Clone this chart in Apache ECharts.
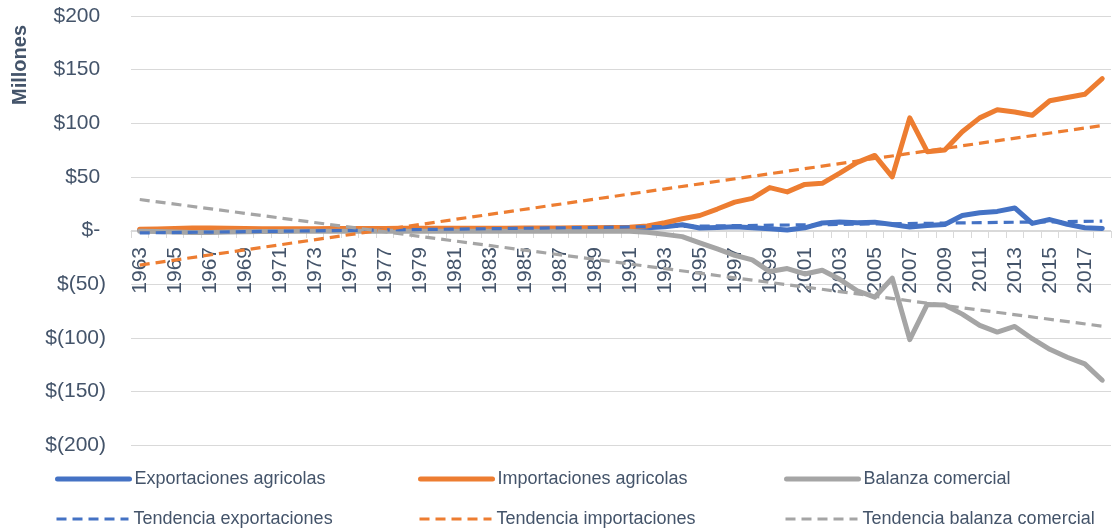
<!DOCTYPE html>
<html>
<head>
<meta charset="utf-8">
<script src="https://cdn.jsdelivr.net/npm/echarts@6/dist/echarts.min.js"></script>
<style>
  html, body { margin: 0; padding: 0; background: #fff; }
  #chart { width: 1113px; height: 531px; }
</style>
</head>
<body>
<div id="chart"></div>
<script>
// years 1963..2018
var years = [];
for (var y = 1963; y <= 2018; y++) years.push(String(y));

// millones de dolares
var exportaciones = [
  0.4, 0.4, 0.5, 0.5, 0.5, 0.6, 0.6, 0.7, 0.7, 0.8,
  0.9, 1.0, 1.0, 1.1, 1.2, 1.2, 1.3, 1.4, 1.4, 1.5,
  1.5, 1.6, 1.6, 1.7, 1.8, 1.9, 2.0, 2.1, 2.3, 2.6,
  3.6, 5.3, 2.4, 2.8, 3.4, 2.6, 1.7, 0.5, 2.5, 7.0,
  8.0, 7.3, 7.8, 5.6, 3.2, 4.6, 5.6, 14.0, 16.5, 17.8,
  21.0, 6.6, 10.2, 5.8, 2.6, 1.9
];
var importaciones = [
  1.2, 1.4, 1.8, 2.3, 2.4, 2.0, 1.8, 1.7, 1.6, 1.6,
  1.7, 1.8, 1.8, 1.9, 1.9, 2.0, 2.0, 2.1, 2.1, 2.1,
  2.2, 2.2, 2.3, 2.3, 2.4, 2.5, 2.6, 2.7, 3.0, 4.3,
  7.2, 11.0, 14.0, 20.0, 26.5, 30.0, 40.0, 36.0, 43.0, 44.0,
  53.5, 63.5, 70.0, 50.0, 105.0, 73.5, 75.0, 92.0, 105.0, 112.5,
  110.5, 107.5, 121.0, 124.0, 127.0, 141.5
];
var balanza = [
  -0.8, -1.0, -1.3, -1.8, -1.9, -1.4, -1.2, -1.0, -0.9, -0.8,
  -0.8, -0.8, -0.8, -0.8, -0.7, -0.8, -0.7, -0.7, -0.7, -0.6,
  -0.7, -0.6, -0.7, -0.6, -0.6, -0.6, -0.6, -0.6, -0.7, -1.7,
  -3.6, -5.7, -11.6, -17.2, -23.1, -27.4, -38.3, -35.5, -40.5, -37.0,
  -45.5, -56.2, -62.2, -44.4, -101.8, -68.9, -69.4, -78.0, -88.5, -94.7,
  -89.5, -100.9, -110.8, -118.2, -124.4, -139.6
];

// linear trend lines: value at first and last year
var tendExportaciones = [-2.3, 8.7];
var tendImportaciones = [-32.3, 97.9];
var tendBalanza = [28.9, -89.2];

var names = [
  'Exportaciones agricolas', 'Importaciones agricolas', 'Balanza comercial',
  'Tendencia exportaciones', 'Tendencia importaciones', 'Tendencia balanza comercial'
];
var colors = ['#4472C4', '#ED7D31', '#A5A5A5'];
var textColor = '#44546A';
var font = 'Liberation Sans, Arial, sans-serif';

function endpoints(pair) {
  var d = years.map(function () { return null; });
  d[0] = pair[0];
  d[d.length - 1] = pair[1];
  return d;
}

function solid(name, data, color) {
  return {
    name: name, type: 'line', data: data, symbol: 'none',
    lineStyle: { color: color, width: 5, cap: 'round', join: 'round' },
    itemStyle: { color: color }
  };
}
function dashed(name, pair, color) {
  return {
    name: name, type: 'line', data: endpoints(pair), symbol: 'none',
    connectNulls: true,
    lineStyle: { color: color, width: 3.2, type: [10, 6] },
    itemStyle: { color: color }
  };
}

function yLabel(v) {
  if (v === 0) return '$- ';
  if (v > 0) return '$' + v + ' ';
  return '$(' + (-v) + ')';
}

var legendPos = [
  [50, 465], [413, 465], [779, 465],
  [50, 505], [413, 505], [779, 505]
];
var legends = names.map(function (n, i) {
  return {
    data: [n], left: legendPos[i][0], top: legendPos[i][1],
    itemWidth: 72, itemHeight: 6, itemGap: 0,
    itemStyle: { opacity: 0 },
    lineStyle: { width: i < 3 ? 5 : 3, cap: i < 3 ? 'round' : 'butt' },
    textStyle: { color: textColor, fontSize: 18, fontFamily: font },
    selectedMode: false
  };
});

var chart = echarts.init(document.getElementById('chart'));
chart.setOption({
  animation: false,
  textStyle: { fontFamily: font },
  grid: { left: 131, right: 2, top: 16, bottom: 86 },
  legend: legends,
  graphic: [{
    type: 'text', x: 20, y: 65, rotation: Math.PI / 2,
    style: {
      text: 'Millones', fill: textColor, fontSize: 20, fontWeight: 'bold',
      fontFamily: font, align: 'center', verticalAlign: 'middle'
    }
  }],
  xAxis: {
    type: 'category', data: years, boundaryGap: true,
    // sit the axis on the $- line (grid bottom is 214px below it)
    offset: -214,
    axisLine: { onZero: false, lineStyle: { color: '#D9D9D9', width: 1 } },
    axisTick: { show: true, interval: 0, length: 7, lineStyle: { color: '#D9D9D9' } },
    axisLabel: {
      interval: 1, rotate: 90, margin: 16, color: textColor,
      fontSize: 21, fontFamily: font
    },
    splitLine: { show: false }
  },
  yAxis: {
    type: 'value', min: -200, max: 200, interval: 50,
    axisLine: { show: false }, axisTick: { show: false },
    axisLabel: { formatter: yLabel, margin: 25, color: textColor, fontSize: 21, fontFamily: font },
    splitLine: { lineStyle: { color: '#D9D9D9', width: 1 } }
  },
  series: [
    solid(names[0], exportaciones, colors[0]),
    solid(names[1], importaciones, colors[1]),
    solid(names[2], balanza, colors[2]),
    dashed(names[3], tendExportaciones, colors[0]),
    dashed(names[4], tendImportaciones, colors[1]),
    dashed(names[5], tendBalanza, colors[2])
  ]
});
</script>
</body>
</html>
